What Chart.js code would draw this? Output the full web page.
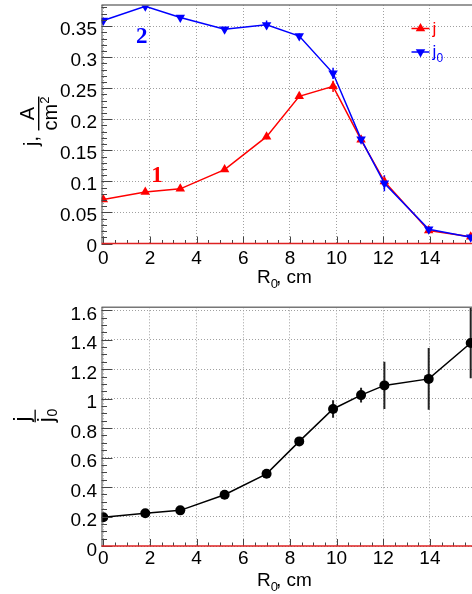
<!DOCTYPE html>
<html>
<head>
<meta charset="utf-8">
<script src="https://cdn.jsdelivr.net/npm/chart.js@4.4.1/dist/chart.umd.min.js"></script>
<style>
  html, body { margin: 0; padding: 0; background: #fff; }
  #wrap { position: relative; width: 472px; height: 594px; overflow: hidden; background: #fff; }
  .panel { position: absolute; left: 0; }
  #topPanel { top: 0; }
  #bottomPanel { top: 297px; }
</style>
</head>
<body>
<div id="wrap">
  <div class="panel" id="topPanel"><canvas id="topChart" width="480" height="297"></canvas></div>
  <div class="panel" id="bottomPanel"><canvas id="bottomChart" width="480" height="297"></canvas></div>
</div>
<script>
// ==============================
// Data
// ==============================
const radius = [0, 1.8, 3.3, 5.2, 7.0, 8.4, 9.85, 11.05, 12.05, 13.95, 15.75];

// curve 1 (red, j)
const jValues = [0.071, 0.083, 0.088, 0.119, 0.172, 0.237, 0.253, 0.167, 0.100, 0.021, 0.011];
const jErrors = [0.002, 0.002, 0.002, 0.003, 0.004, 0.004, 0.009, 0.005, 0.005, 0.002, 0.002];

// curve 2 (blue, j0)
const j0Values = [0.359, 0.382, 0.364, 0.345, 0.352, 0.334, 0.274, 0.168, 0.097, 0.023, 0.010];
const j0Errors = [0.003, 0.003, 0.003, 0.003, 0.007, 0.004, 0.009, 0.006, 0.013, 0.004, 0.002];

// ratio j / j0 (black)
const ratioValues = [0.195, 0.222, 0.242, 0.348, 0.49, 0.71, 0.93, 1.024, 1.09, 1.134, 1.378];
const ratioErrors = [0.01, 0.01, 0.01, 0.01, 0.01, 0.01, 0.06, 0.05, 0.16, 0.21, 0.24];

const xTicks = [0, 2, 4, 6, 8, 10, 12, 14];
const yTicksTop = [0, 0.05, 0.1, 0.15, 0.2, 0.25, 0.3, 0.35];
const yTicksBottom = [0, 0.2, 0.4, 0.6, 0.8, 1, 1.2, 1.4, 1.6];

// curve numbers written on the top plot (data coordinates)
const curveLabels = ["1", "2"];
const curveLabelX = [2.3, 1.65];
const curveLabelY = [0.109, 0.333];

const X_MIN = -0.077;
const X_MAX = 15.9;

const FONT = "'Liberation Sans', Arial, Helvetica, sans-serif";
const RED = "#ff0000";
const BLUE = "#0000ff";
const BLACK = "#000000";

const toPoints = (ys) => radius.map((r, i) => ({ x: r, y: ys[i] }));

// ==============================
// Small drawing helpers
// ==============================
function drawTriangle(ctx, x, y, r, down, color) {
  const s = down ? -1 : 1;
  ctx.fillStyle = color;
  ctx.beginPath();
  ctx.moveTo(x, y - s * r);
  ctx.lineTo(x + r * 0.866, y + s * r * 0.5);
  ctx.lineTo(x - r * 0.866, y + s * r * 0.5);
  ctx.closePath();
  ctx.fill();
}

function drawXTitle(ctx, area) {
  // "R0, cm" with the 0 as a subscript
  const baseY = area.bottom + 39.5;
  ctx.fillStyle = BLACK;
  ctx.textBaseline = "alphabetic";
  ctx.textAlign = "left";
  ctx.font = "19px " + FONT;
  const wR = ctx.measureText("R").width;
  const wRest = ctx.measureText(", cm").width;
  ctx.font = "13px " + FONT;
  const wSub = ctx.measureText("0").width;
  let x = area.left + 184 - (wR + wSub + wRest) / 2;
  ctx.font = "19px " + FONT;
  ctx.fillText("R", x, baseY);
  x += wR;
  ctx.font = "13px " + FONT;
  ctx.fillText("0", x, baseY + 5);
  x += wSub - 2;
  ctx.font = "19px " + FONT;
  ctx.fillText(", cm", x, baseY);
}

function drawTopYTitle(ctx, area) {
  // rotated "j, A/cm^2"
  ctx.save();
  ctx.translate(area.left - 63.5, 146);
  ctx.rotate(-Math.PI / 2);
  ctx.fillStyle = BLACK;
  ctx.textBaseline = "alphabetic";
  ctx.textAlign = "left";
  ctx.font = "20px " + FONT;
  ctx.fillText("j,", 0, 0);
  const u0 = ctx.measureText("j, ").width;
  const wCm = ctx.measureText("cm").width;
  ctx.font = "13px " + FONT;
  const wSq = ctx.measureText("2").width;
  const wDen = wCm + wSq;
  ctx.fillRect(u0, 0, wDen, 1.4);
  ctx.font = "20px " + FONT;
  const wA = ctx.measureText("A").width;
  ctx.fillText("A", u0 + (wDen - wA) / 2, -4);
  ctx.fillText("cm", u0, 19);
  ctx.font = "13px " + FONT;
  ctx.fillText("2", u0 + wCm, 11);
  ctx.restore();
}

function drawBottomYTitle(ctx, area) {
  // rotated "j / j0"
  ctx.save();
  ctx.translate(area.left - 66.5, 119);
  ctx.rotate(-Math.PI / 2);
  ctx.fillStyle = BLACK;
  ctx.textBaseline = "alphabetic";
  ctx.textAlign = "left";
  ctx.font = "22px " + FONT;
  const wj = ctx.measureText("j").width;
  ctx.font = "14px " + FONT;
  const w0 = ctx.measureText("0").width;
  const wDen = wj + w0;
  ctx.fillRect(-wDen / 2, -0.5, wDen, 1.3);
  ctx.font = "22px " + FONT;
  ctx.fillText("j", -wj / 2 - 3, -6.5);
  ctx.fillText("j", -wDen / 2, 18);
  ctx.font = "14px " + FONT;
  ctx.fillText("0", -wDen / 2 + wj + 1, 22);
  ctx.restore();
}

function drawLegend(ctx, area) {
  const x0 = area.left + 310;
  const rows = [
    { y: area.top + 23.5, color: RED, down: false, sub: false },
    { y: area.top + 47, color: BLUE, down: true, sub: true },
  ];
  rows.forEach((row) => {
    ctx.strokeStyle = row.color;
    ctx.lineWidth = 1.5;
    ctx.beginPath();
    ctx.moveTo(x0, row.y);
    ctx.lineTo(x0 + 18, row.y);
    ctx.stroke();
    drawTriangle(ctx, x0 + 9, row.y, 5.5, row.down, row.color);
    ctx.fillStyle = row.color;
    ctx.textAlign = "left";
    ctx.textBaseline = "alphabetic";
    ctx.font = "17px " + FONT;
    ctx.fillText("j", x0 + 21, row.y + 5);
    if (row.sub) {
      ctx.font = "12px " + FONT;
      ctx.fillText("0", x0 + 25, row.y + 10);
    }
  });
}

// ==============================
// Plugins: error bars, ROOT style frame and ticks, texts
// ==============================
const errorBarPlugin = {
  id: "errorBars",
  beforeDatasetsDraw(chart) {
    const { ctx, chartArea: a, scales } = chart;
    ctx.save();
    ctx.beginPath();
    ctx.rect(a.left, a.top, a.right - a.left, a.bottom - a.top);
    ctx.clip();
    chart.data.datasets.forEach((ds) => {
      if (!ds.errors) return;
      ctx.strokeStyle = ds.errorColor || ds.borderColor;
      ctx.lineWidth = ds.errorWidth || 1.5;
      ds.data.forEach((p, i) => {
        const px = scales.x.getPixelForValue(p.x);
        ctx.beginPath();
        ctx.moveTo(px, scales.y.getPixelForValue(p.y - ds.errors[i]));
        ctx.lineTo(px, scales.y.getPixelForValue(p.y + ds.errors[i]));
        ctx.stroke();
      });
    });
    ctx.restore();
  },
};

const framePlugin = {
  id: "rootFrame",
  afterDraw(chart, args, opts) {
    const { ctx, chartArea: a, scales } = chart;
    const sx = scales.x;
    const sy = scales.y;
    ctx.save();

    // inner tick marks, left axis
    ctx.strokeStyle = "#444";
    ctx.lineWidth = 1;
    for (let k = 0; k * opts.yMinor <= sy.max + 1e-9; k++) {
      const v = k * opts.yMinor;
      const q = v / opts.yMajor;
      const major = Math.abs(q - Math.round(q)) < 1e-6;
      const py = Math.round(sy.getPixelForValue(v)) + 0.5;
      ctx.beginPath();
      ctx.moveTo(a.left, py);
      ctx.lineTo(a.left + (major ? 11 : 5.5), py);
      ctx.stroke();
    }
    // inner tick marks, bottom axis
    for (let k = 0; k * 0.5 <= sx.max; k++) {
      const v = k * 0.5;
      const major = v % 2 === 0;
      const px = Math.round(sx.getPixelForValue(v)) + 0.5;
      ctx.beginPath();
      ctx.moveTo(px, a.bottom);
      ctx.lineTo(px, a.bottom - (major ? 7 : 3.5));
      ctx.stroke();
    }

    // frame
    ctx.lineWidth = 1.5;
    ctx.strokeStyle = "#777";
    ctx.beginPath();
    ctx.moveTo(a.left, a.top);
    ctx.lineTo(a.right, a.top);
    ctx.stroke();
    ctx.lineWidth = 1;
    ctx.strokeStyle = "#444";
    ctx.beginPath();
    ctx.moveTo(a.left + 0.5, a.top);
    ctx.lineTo(a.left + 0.5, a.bottom);
    ctx.stroke();
    ctx.strokeStyle = "#d22";
    ctx.lineWidth = 1.5;
    ctx.beginPath();
    ctx.moveTo(a.left, a.bottom);
    ctx.lineTo(a.right, a.bottom);
    ctx.stroke();

    drawXTitle(ctx, a);

    if (opts.panel === "top") {
      drawTopYTitle(ctx, a);
      drawLegend(ctx, a);
      ctx.font = "bold 23px 'Liberation Serif', 'Times New Roman', serif";
      ctx.textAlign = "center";
      ctx.textBaseline = "middle";
      curveLabels.forEach((t, i) => {
        ctx.fillStyle = i === 0 ? RED : BLUE;
        ctx.fillText(t, sx.getPixelForValue(curveLabelX[i]), sy.getPixelForValue(curveLabelY[i]));
      });
    } else {
      drawBottomYTitle(ctx, a);
    }
    ctx.restore();
  },
};

// ==============================
// Shared axis setup
// ==============================
function makeScales(yMax, yTicks, xAxisHeight, xPad, yOffset) {
  return {
    x: {
      type: "linear",
      min: X_MIN,
      max: X_MAX,
      afterBuildTicks: (s) => { s.ticks = xTicks.map((v) => ({ value: v })); },
      afterFit: (s) => { s.height = xAxisHeight; s.paddingLeft = 0; s.paddingRight = 0; },
      grid: { color: "#a0a0a0", lineWidth: 1, drawTicks: false },
      border: { display: false, dash: [1, 2] },
      ticks: {
        color: BLACK, padding: xPad, maxRotation: 0, autoSkip: false,
        font: { family: FONT, size: 19 },
        callback: (v) => String(v),
      },
    },
    y: {
      type: "linear",
      min: 0,
      max: yMax,
      afterBuildTicks: (s) => { s.ticks = yTicks.map((v) => ({ value: v })); },
      afterFit: (s) => { s.width = 101.5; s.paddingTop = 0; s.paddingBottom = 0; },
      grid: { color: "#a0a0a0", lineWidth: 1, drawTicks: false },
      border: { display: false, dash: [1, 2] },
      ticks: {
        color: BLACK, padding: 4.5, labelOffset: yOffset, autoSkip: false,
        font: { family: FONT, size: 19 },
        callback: (v) => String(v),
      },
    },
  };
}

const commonPlugins = {
  legend: { display: false },
  tooltip: { enabled: false },
};

// ==============================
// Top panel: j and j0 versus R0
// ==============================
new Chart(document.getElementById("topChart"), {
  type: "line",
  data: {
    datasets: [
      {
        label: "j",
        data: toPoints(jValues),
        errors: jErrors,
        borderColor: RED,
        backgroundColor: RED,
        borderWidth: 1.5,
        pointStyle: "triangle",
        pointRadius: 5.5,
        pointBorderWidth: 0,
        tension: 0,
        order: 1,
      },
      {
        label: "j0",
        data: toPoints(j0Values),
        errors: j0Errors,
        borderColor: BLUE,
        backgroundColor: BLUE,
        borderWidth: 1.5,
        pointStyle: "triangle",
        pointRotation: 180,
        pointRadius: 5.5,
        pointBorderWidth: 0,
        tension: 0,
        order: 0,
      },
    ],
  },
  options: {
    responsive: false,
    animation: false,
    events: [],
    layout: { padding: { left: 0, top: 5, right: 5.8, bottom: 0 }, autoPadding: false },
    scales: makeScales(0.384, yTicksTop, 53.5, 3.5, 3.5),
    plugins: { ...commonPlugins, rootFrame: { panel: "top", yMinor: 0.01, yMajor: 0.05 } },
  },
  plugins: [errorBarPlugin, framePlugin],
});

// ==============================
// Bottom panel: ratio j / j0
// ==============================
new Chart(document.getElementById("bottomChart"), {
  type: "line",
  data: {
    datasets: [
      {
        label: "j/j0",
        data: toPoints(ratioValues),
        errors: ratioErrors,
        errorColor: "#222",
        errorWidth: 2,
        borderColor: BLACK,
        backgroundColor: BLACK,
        borderWidth: 1.5,
        pointStyle: "circle",
        pointRadius: 5,
        pointBorderWidth: 0,
        tension: 0,
      },
    ],
  },
  options: {
    responsive: false,
    animation: false,
    events: [],
    layout: { padding: { left: 0, top: 10.3, right: 5.8, bottom: 0 }, autoPadding: false },
    scales: makeScales(1.62, yTicksBottom, 48, 1.5, 4.5),
    plugins: { ...commonPlugins, rootFrame: { panel: "bottom", yMinor: 0.05, yMajor: 0.2 } },
  },
  plugins: [errorBarPlugin, framePlugin],
});
</script>
</body>
</html>
